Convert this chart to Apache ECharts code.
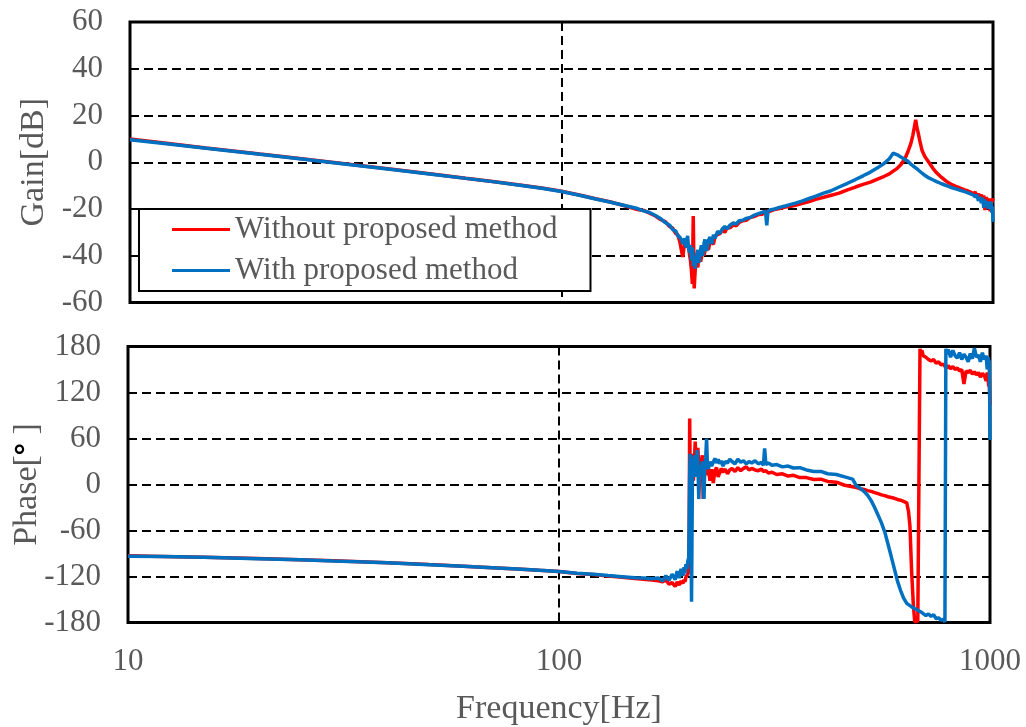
<!DOCTYPE html>
<html>
<head>
<meta charset="utf-8">
<script src="https://cdn.jsdelivr.net/npm/echarts@6/dist/echarts.min.js"></script>
<style>
  html, body { margin: 0; padding: 0; background: #fff; }
  #chart { width: 1026px; height: 727px; }
</style>
</head>
<body>
<div id="chart"></div>
<script>
// Bode plot: open-loop gain and phase, measured with and without the proposed method

const seriesNames = ['Without proposed method', 'With proposed method'];
const xTicks = [10, 100, 1000];

// Gain [dB] on a shared frequency grid [Hz]
const freqGain = [
  10, 12, 15, 20, 25, 30, 40, 50, 60, 70,
  80, 90, 100, 110, 120, 130, 140, 150, 155, 160,
  165, 170, 174, 178, 181, 184, 186, 188, 190, 191,
  193, 194, 196, 197, 198, 199, 200, 201, 202, 203,
  204, 205, 206, 207, 208, 209, 210, 211, 212, 213,
  214, 215, 217, 219, 221, 223, 225, 227, 230, 233,
  236, 239, 242, 246, 250, 254, 258, 263, 268, 274,
  280, 286, 292, 297, 299, 301, 306, 312, 320, 330,
  340, 350, 362, 375, 390, 405, 420, 440, 460, 480,
  500, 520, 540, 560, 575, 587, 600, 612, 625, 635,
  645, 652, 658, 662, 666, 671, 677, 685, 695, 710,
  725, 740, 760, 780, 800, 820, 840, 860, 875, 890,
  900, 910, 918, 925, 932, 940, 946, 952, 958, 964,
  970, 975, 980, 985, 990, 994, 997, 1000];

const gainWithout = [
  9.9, 8.2, 6.1, 3.5, 1.5, -0.2, -2.9, -5.0, -6.8, -8.3,
  -9.7, -11.0, -12.4, -14.0, -15.6, -17.0, -18.6, -20.2, -20.6, -21.8,
  -23.0, -24.6, -25.4, -27.5, -28.2, -30.5, -31.0, -34.0, -38.5, -40.5,
  -34.0, -33.0, -36.5, -35.0, -39.5, -42.0, -46.0, -52.0, -23.0, -54.0,
  -47.0, -41.0, -44.0, -45.0, -39.5, -38.0, -42.5, -41.0, -37.5, -36.5,
  -40.0, -38.0, -35.0, -37.5, -34.0, -33.5, -35.0, -31.5, -31.0, -30.5,
  -29.0, -30.0, -28.0, -28.0, -26.8, -27.2, -25.8, -25.0, -24.8, -23.6,
  -23.2, -22.4, -22.2, -21.0, -20.6, -21.2, -20.8, -20.2, -19.8, -19.2,
  -18.8, -18.3, -17.6, -16.8, -15.8, -15.0, -14.2, -13.2, -11.8, -10.6,
  -9.5, -8.5, -7.2, -6.0, -5.0, -3.8, -2.6, -1.0, 1.5, 4.5,
  8.0, 11.5, 15.5, 18.2, 15.0, 12.5, 9.0, 5.0, 2.5, 0.0,
  -2.5, -4.5, -6.5, -8.2, -9.4, -10.3, -11.1, -11.8, -12.3, -12.9,
  -13.5, -12.8, -14.5, -13.4, -15.0, -13.8, -16.2, -14.2, -20.5, -15.0,
  -14.2, -16.8, -15.5, -21.0, -16.0, -17.5, -15.5, -16.5];

const gainWith = [
  9.6, 8.0, 6.0, 3.4, 1.4, -0.3, -3.0, -5.1, -6.9, -8.4,
  -9.8, -11.1, -12.5, -14.1, -15.7, -17.1, -18.5, -19.8, -20.8, -21.5,
  -22.8, -24.2, -25.8, -26.9, -28.8, -29.4, -31.5, -32.0, -33.5, -35.0,
  -32.5, -36.5, -31.5, -37.0, -38.5, -35.5, -42.0, -36.5, -44.5, -40.0,
  -45.5, -42.0, -39.0, -37.5, -43.0, -41.5, -37.5, -35.5, -40.0, -39.0,
  -34.5, -33.0, -38.0, -33.5, -32.0, -35.0, -31.0, -32.5, -29.5, -30.5,
  -28.5, -27.5, -28.5, -26.8, -26.0, -26.4, -25.0, -24.8, -24.0, -23.6,
  -22.6, -22.0, -21.4, -21.0, -27.0, -20.8, -20.3, -20.0, -19.3, -18.7,
  -18.0, -17.4, -16.5, -15.5, -14.4, -13.2, -12.3, -10.6, -9.0, -7.4,
  -5.8, -4.2, -2.4, -0.4, 1.5, 3.9, 3.2, 2.2, 1.2, 0.4,
  -0.8, -1.5, -2.0, -2.4, -2.8, -3.3, -3.9, -4.7, -5.6, -6.7,
  -7.5, -8.3, -9.2, -10.0, -10.8, -11.4, -12.0, -12.6, -13.1, -13.6,
  -14.0, -14.8, -13.9, -16.5, -14.8, -17.5, -15.2, -19.5, -16.0, -18.5,
  -16.8, -20.0, -17.2, -19.0, -16.8, -21.5, -19.0, -25.5];

// Phase [deg] on a shared frequency grid [Hz]
const freqPhase = [
  10, 12, 15, 20, 25, 30, 40, 50, 60, 70,
  80, 90, 100, 110, 120, 130, 140, 150, 157, 164,
  170, 174, 177, 180, 183, 186, 188, 190, 192, 194,
  195, 196, 197, 198, 199, 200, 200.5, 201, 201.5, 202,
  203, 204, 205, 206, 207, 208, 209, 210, 211, 212,
  213, 214, 215, 216, 217, 218, 219, 220, 221, 222,
  224, 226, 228, 230, 232, 234, 236, 238, 240, 243,
  246, 249, 252, 256, 260, 264, 268, 272, 276, 280,
  285, 290, 295, 298, 300, 302, 306, 312, 320, 330,
  340, 350, 362, 375, 390, 405, 420, 440, 460, 480,
  490, 500, 510, 520, 530, 540, 550, 560, 570, 580,
  590, 600, 610, 620, 630, 641, 647, 652, 658, 664,
  669, 675, 680, 685, 688, 690, 695, 700, 710, 720,
  730, 740, 750, 760, 770, 780, 786, 790, 795, 800,
  810, 820, 830, 840, 850, 860, 870, 880, 890, 900,
  910, 920, 930, 940, 950, 960, 970, 980, 985, 990,
  993, 996, 998, 1000];

const phaseWithout = [
  -93, -93.8, -94.8, -96.5, -98, -99.5, -102, -104.5, -106.5, -108.5,
  -110.2, -112, -113.5, -116, -117.5, -119.5, -121, -122.5, -123.5, -124.5,
  -125.5, -127, -124.5, -130, -128, -133, -127, -131, -126, -129,
  -124, -127, -121, -123, -119, -114, -60, 86, 20, -30,
  20, 40, 5, 25, 56, 30, 10, 48, 20, 35,
  15, 30, 38, -19, 25, 14, 32, 28, 12, 22,
  5, 20, 2, 18, 22, 10, 12, 21, 16, 20,
  14, 19, 21, 17, 22, 18, 21, 23, 19, 21,
  19, 18, 20, 17, 16, 18, 15, 16, 13, 14,
  11, 12, 9, 9, 6.5, 7, 4, 3, -1, -3,
  -4, -5.5, -6.5, -8, -9, -10.5, -12, -13.5, -14.5, -16,
  -17, -18, -19.5, -20.5, -22, -24, -35, -54, -114, -157,
  -179, -179.5, -178, -179.5, 177, 172, 175, 168, 166, 163,
  161, 163, 158, 160, 156, 157, 154, 156, 152, 155,
  151, 154, 150, 152, 148, 150, 131, 148, 146, 149,
  144, 147, 143, 146, 140, 145, 142, 135, 146, 138,
  128, 140, 118, 104];

const phaseWith = [
  -93.5, -94, -95, -96.8, -98.2, -99.8, -102.2, -104.6, -106.6, -108.6,
  -110.3, -112, -113.6, -115.8, -117.2, -118.8, -120.2, -121.5, -122, -123,
  -122, -126, -119, -125, -117, -124, -113, -122, -110, -119,
  -108, -116, -104, -110, -100, -95, -40, 15, 40, 5,
  -153, 15, 28, 38, 10, 20, 45, 30, -19, 12,
  25, 18, 30, 22, -19, 28, 35, 60, 25, 20,
  30, 24, 25, 34, 28, 33, 27, 31, 24, 30,
  28, 33, 30, 27, 33, 29, 31, 27, 30, 28,
  31, 27, 29, 25, 47, 26, 28, 25, 26, 23,
  24, 21.5, 22, 19, 17, 17, 14, 13, 10, 7,
  -2, -5, -9, -14, -21, -30, -40, -50, -62, -78,
  -94, -110, -126, -138, -148, -155, -157, -158, -160, -161,
  -162, -163, -164, -165, -166, -166, -167, -168, -171, -169,
  -172, -170, -175, -174, -177, -176, -179.5, 177, 170, 176,
  166, 175, 168, 165, 172, 163, 170, 166, 160, 171,
  164, 178, 166, 169, 160, 172, 163, 168, 150, 166,
  158, 162, 120, 58];

const pairs = (xs, ys) => xs.map((x, i) => [x, ys[i]]);

const FONT = "'Liberation Serif', 'Times New Roman', serif";
const TEXT = '#595959';
const RED = '#ff0000';
const BLUE = '#0070c0';

const gridDash = { color: '#000', width: 2, type: [9, 5] };

function logX(gridIndex, withLabels) {
  return {
    type: 'log', logBase: 10, min: 10, max: 1000, gridIndex,
    axisLine: { show: false },
    axisTick: { show: false },
    axisLabel: {
      show: withLabels, fontFamily: FONT, fontSize: 31, color: TEXT, margin: 24,
      formatter: v => (xTicks.includes(Math.round(v)) ? String(Math.round(v)) : '')
    },
    splitLine: { show: true, showMinLine: false, showMaxLine: false, lineStyle: gridDash },
    name: withLabels ? 'Frequency[Hz]' : '',
    nameLocation: 'middle', nameGap: 70, nameMoveOverlap: false,
    nameTextStyle: { fontFamily: FONT, fontSize: 34, color: TEXT }
  };
}

function valueY(gridIndex, min, max, interval, name, nameGap, rich) {
  return {
    type: 'value', gridIndex, min, max, interval,
    axisLine: { show: false },
    axisTick: { show: true, inside: true, length: 8, lineStyle: { color: '#000', width: 1.5 } },
    axisLabel: { fontFamily: FONT, fontSize: 31, color: TEXT, margin: 27 },
    splitLine: { show: true, showMinLine: false, showMaxLine: false, lineStyle: gridDash },
    name, nameLocation: 'middle', nameGap, nameRotate: 90, nameMoveOverlap: false,
    nameTextStyle: Object.assign({ fontFamily: FONT, fontSize: 34, color: TEXT }, rich ? { rich } : {})
  };
}

const lineStyleOf = color => ({ color, width: 3.5 });

const chart = echarts.init(document.getElementById('chart'), null, { renderer: 'canvas' });

chart.setOption({
  animation: false,
  backgroundColor: '#fff',
  grid: [
    { left: 130, top: 22, width: 863, height: 280.5, show: true, borderColor: '#000', borderWidth: 3,
      backgroundColor: 'transparent', containLabel: false, outerBoundsMode: 'none' },
    { left: 128, top: 346.5, width: 862, height: 276, show: true, borderColor: '#000', borderWidth: 3,
      backgroundColor: 'transparent', containLabel: false, outerBoundsMode: 'none' }
  ],
  legend: {
    data: seriesNames,
    orient: 'vertical',
    left: 139, top: 209,
    padding: [5, 33, 5, 33],
    itemGap: 10,
    itemWidth: 58, itemHeight: 3,
    icon: 'rect',
    backgroundColor: '#fff',
    borderColor: '#000', borderWidth: 2, borderRadius: 0,
    textStyle: { fontFamily: FONT, fontSize: 31, color: TEXT, lineHeight: 30 },
    selectedMode: false
  },
  xAxis: [logX(0, false), logX(1, true)],
  yAxis: [
    valueY(0, -60, 60, 20, 'Gain[dB]', 79),
    valueY(1, -180, 180, 60, '{a|Phase[}{b|°}{a| ]}', 84, {
      a: { fontFamily: FONT, fontSize: 34, color: TEXT },
      b: { fontFamily: "'Noto Sans CJK JP', sans-serif", fontSize: 30, fontWeight: 'bold', color: '#000' }
    })
  ],
  series: [
    { name: seriesNames[0], type: 'line', xAxisIndex: 0, yAxisIndex: 0, showSymbol: false, symbol: 'none',
      lineStyle: lineStyleOf(RED), itemStyle: { color: RED }, data: pairs(freqGain, gainWithout) },
    { name: seriesNames[1], type: 'line', xAxisIndex: 0, yAxisIndex: 0, showSymbol: false, symbol: 'none',
      lineStyle: lineStyleOf(BLUE), itemStyle: { color: BLUE }, data: pairs(freqGain, gainWith) },
    { name: seriesNames[0], type: 'line', xAxisIndex: 1, yAxisIndex: 1, showSymbol: false, symbol: 'none',
      lineStyle: lineStyleOf(RED), itemStyle: { color: RED }, data: pairs(freqPhase, phaseWithout) },
    { name: seriesNames[1], type: 'line', xAxisIndex: 1, yAxisIndex: 1, showSymbol: false, symbol: 'none',
      lineStyle: lineStyleOf(BLUE), itemStyle: { color: BLUE }, data: pairs(freqPhase, phaseWith) }
  ]
});
</script>
</body>
</html>
